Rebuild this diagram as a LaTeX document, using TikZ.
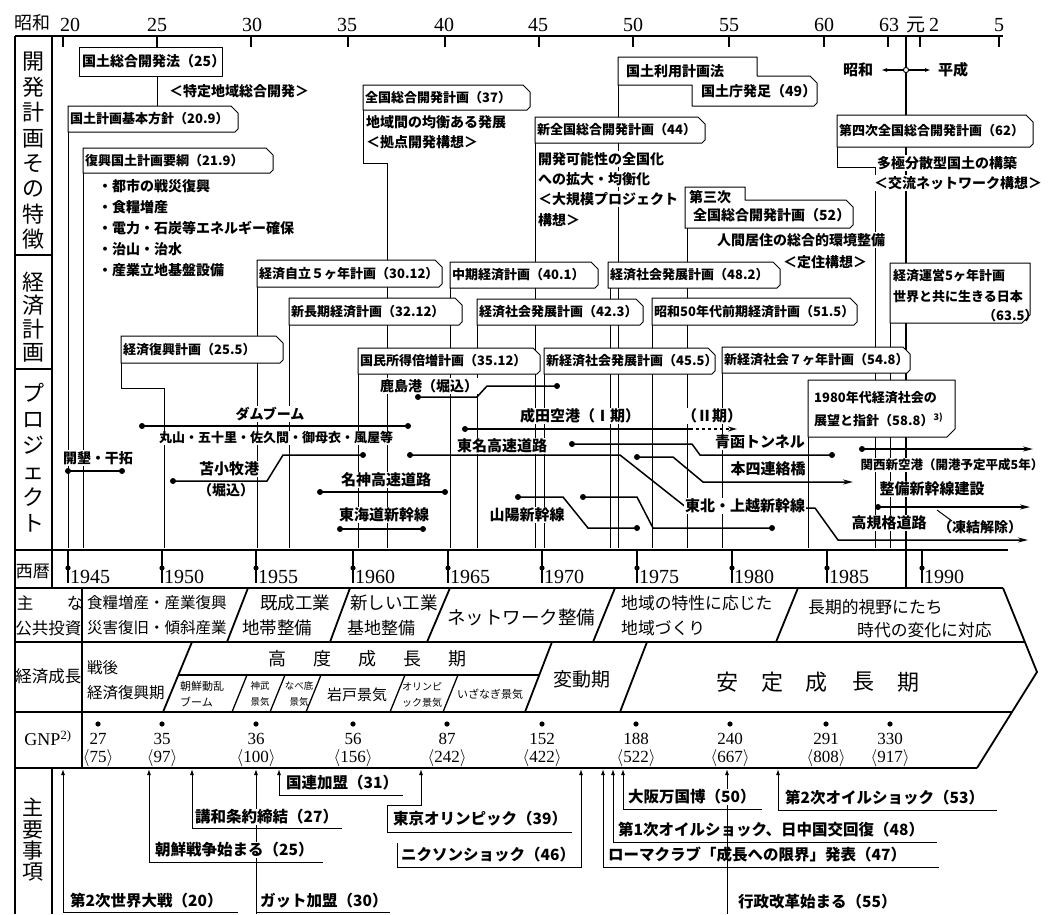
\documentclass[tikz,border=0pt]{standalone}
\usepackage{fontspec}
\setmainfont{Noto Sans CJK JP}
\newfontfamily\ser{Liberation Serif}
\usetikzlibrary{arrows.meta}
\newcommand\fsz[1]{\fontsize{#1}{#1}\selectfont}
\newcommand\dt[1]{\fill #1 circle[radius=3];}
\newcommand\planbox[6]{%
  \draw[pbox] (#2,#5) -- (#2,#3) -- ({#4-7},#3) -- (#4,{#3+7}) -- (#4,{#5-3}) -- ({#4-3},#5) -- cycle;
  \node[lbl,anchor=west] (#1) at ({#2+1},{(#3+#5)/2}) {#6};}
\begin{document}
\begin{tikzpicture}[x=1pt,y=-1pt,
 frame/.style={line width=1.8pt},
 tickl/.style={line width=1.3pt},
 life/.style={line width=0.8pt},
 pbox/.style={line width=1pt,fill=white,line join=round},
 lbl/.style={font=\bfseries\fsz{13}, inner sep=1pt},
 body/.style={font=\bfseries\fsz{14}, inner sep=1pt, fill=white, anchor=west},
 ev/.style={font=\bfseries\fsz{15.5}, inner sep=1pt, fill=white, anchor=west},
 prj/.style={font=\bfseries\fsz{14}, inner sep=1pt, fill=white},
 pl/.style={line width=1.5pt},
 parr/.style={line width=1.5pt,-{Stealth[length=10pt,width=5pt]}},
 uarr/.style={line width=1pt,-{Latex[length=6pt,width=4pt]}},
 evl/.style={line width=1pt},
 seg/.style={font=\fsz{16}, inner sep=0pt},
 vlab/.style={inner sep=0pt,align=center},
 num/.style={font=\ser\fsz{20}, inner sep=0pt, anchor=base},
]
\useasboundingbox (0,0) rectangle (1053,914);

% ---------- top axis ----------
\node[font=\fsz{18},inner sep=0pt] (showa) at (33,23) {昭和};
\draw[frame] (15,36) -- (1003,36);
\foreach \x in {63,157,251,348,445,539,633,729,824,888,920,999}
  \draw[tickl] (\x,36) -- (\x,47);
\foreach \x/\t in {70/20,157/25,252/30,347/35,444/40,538/45,633/50,729/55,824/60,889/63,999/5}
  \node[num] (ax\t) at (\x,31) {\t};
\node[font=\fsz{19},inner sep=0pt,anchor=base] (gan) at (916,31) {元};
\node[num] (ax2) at (934,31) {2};

% ---------- lifelines ----------
\foreach \x/\a in {68/132, 83/173, 257/287, 289/325, 358/374, 387/163, 450/288, 477/325, 535/143, 544/374, 610/288, 618/85, 652/325, 687/228, 722/373, 808/437, 875/167, 890/323}
  \draw[life] (\x,\a) -- (\x,548);
\draw[life] (121,363) -- (121,388) -- (164,388) -- (164,548);
\draw[life] (363,110) -- (363,163) -- (387,163);
\draw[life] (837,147) -- (837,167) -- (875,167);
\draw[life] (157,76) -- (157,106);
\draw[line width=1.4pt] (906,36) -- (906,588);

% Showa / Heisei
\node[font=\bfseries\fsz{15},inner sep=1pt] (shw) at (858,70) {昭和};
\node[font=\bfseries\fsz{15},inner sep=1pt] (hsi) at (953,70) {平成};
\draw[line width=1.2pt,-{Latex[length=6pt,width=4pt]}] (906,70) -- (881,70);
\draw[line width=1.2pt,-{Latex[length=6pt,width=4pt]}] (906,70) -- (931,70);
\draw[line width=1pt,fill=white] (906,70) circle[radius=2.6];

% ---------- left label column ----------
\draw[frame] (15,36) -- (15,914);
\draw[frame] (52,36) -- (52,588);
\draw[frame] (15,255) -- (52,255);
\draw[frame] (15,369) -- (52,369);
\node[vlab,font={\fontsize{22}{25.4}\selectfont}] (lkai) at (33.5,151) {開\\発\\計\\画\\そ\\の\\特\\徴};
\node[vlab,font={\fontsize{22}{23.3}\selectfont}] (lkei) at (33.5,317) {経\\済\\計\\画};
\node[vlab,font={\fontsize{22}{26}\selectfont}] (lpro) at (33.5,458) {プ\\ロ\\ジ\\ェ\\ク\\ト};

% ---------- development plans ----------
\draw[pbox] (79,47) rectangle (222,76);
\node[lbl,anchor=west,font=\bfseries\fsz{14}] (kokudoho) at (81,61.5) {国土総合開発法（25）};
\node[body,fill=none] (tokutei) at (168,91) {＜特定地域総合開発＞};

\planbox{kihon}{68}{106}{238}{132}{国土計画基本方針（20.9）}
\planbox{fukko}{83}{148}{273}{173}{復興国土計画要綱（21.9）}
\node[body] (b1) at (97,186) {・都市の戦災復興};
\node[body] (b2) at (97,207) {・食糧増産};
\node[body] (b3) at (97,228) {・電力・石炭等エネルギー確保};
\node[body] (b4) at (97,249) {・治山・治水};
\node[body] (b5) at (97,270) {・産業立地基盤設備};

\planbox{zenso}{363}{85}{530}{110}{全国総合開発計画（37）}
\node[body] (z1) at (365,122) {地域間の均衡ある発展};
\node[body] (z2) at (365,142) {＜拠点開発構想＞};

\draw[pbox] (618,85) -- (618,57) -- (757,57) -- (757,76) -- (810,76) -- (817,83) -- (817,103) -- (814,106) -- (692,106) -- (692,85) -- cycle;
\node[lbl,anchor=west,font=\bfseries\fsz{14}] (riyo) at (625,71) {国土利用計画法};
\node[lbl,anchor=west,font=\bfseries\fsz{14}] (kokudocho) at (700,91) {国土庁発足（49）};

\planbox{shinzen}{535}{117}{705}{143}{新全国総合開発計画（44）}
\node[body] (s1) at (537,159) {開発可能性の全国化};
\node[body] (s2) at (537,179) {への拡大・均衡化};
\node[body] (s3) at (537,199) {＜大規模プロジェクト};
\node[body] (s4) at (537,220) {構想＞};

\draw[pbox] (685,228) -- (685,187) -- (745,187) -- (745,200) -- (846,200) -- (853,207) -- (853,225) -- (850,228) -- cycle;
\node[lbl,anchor=west,font=\bfseries\fsz{14}] (sanji) at (688,197) {第三次};
\node[lbl,anchor=west,font=\bfseries\fsz{14}] (sanji2) at (692,215) {全国総合開発計画（52）};
\node[body] (t1) at (716,240) {人間居住の総合的環境整備};
\node[body] (t2) at (782,262) {＜定住構想＞};

\planbox{yonji}{837}{115}{1033}{147}{第四次全国総合開発計画（62）}
\node[body] (y1) at (876,163) {多極分散型国土の構築};
\node[body] (y2) at (873,183) {＜交流ネットワーク構想＞};

% ---------- economic plans ----------
\planbox{jiritsu}{257}{260}{442}{287}{経済自立５ヶ年計画（30.12）}
\planbox{choki}{289}{298}{462}{325}{新長期経済計画（32.12）}
\planbox{keifuk}{121}{336}{283}{363}{経済復興計画（25.5）}
\planbox{chuki}{450}{262}{598}{288}{中期経済計画（40.1）}
\planbox{hatten}{477}{299}{643}{325}{経済社会発展計画（42.3）}
\planbox{baizo}{358}{348}{540}{374}{国民所得倍増計画（35.12）}
\planbox{kihonk}{608}{262}{780}{288}{経済社会発展計画（48.2）}
\planbox{s50}{652}{298}{857}{325}{昭和50年代前期経済計画（51.5）}
\planbox{shinhat}{544}{348}{715}{374}{新経済社会発展計画（45.5）}
\planbox{nanaka}{722}{347}{910}{373}{新経済社会７ヶ年計画（54.8）}
\draw[pbox] (890,323) -- (890,263) -- (1030,263) -- (1030,315) -- (1022,323) -- cycle;
\node[lbl,anchor=west] (unei1) at (892,276) {経済運営5ヶ年計画};
\node[lbl,anchor=west] (unei2) at (892,297) {世界と共に生きる日本};
\node[lbl,anchor=west] (unei3) at (982,316) {（63.5）};
\draw[pbox] (808,437) -- (808,380) -- (955,380) -- (955,429) -- (947,437) -- cycle;
\node[lbl,anchor=west] (p80a) at (813,398) {1980年代経済社会の};
\node[lbl,anchor=west] (p80b) at (813,420) {展望と指針（58.8）\textsuperscript{3)}};

% ---------- projects ----------
\draw[pl] (68,471) -- (122,471); \dt{(68,471)} \dt{(122,471)}
\node[prj] (kaikon) at (98,458) {開墾・干拓};

\draw[pl] (142,426) -- (408,426); \dt{(142,426)} \dt{(408,426)}
\node[prj] (dam) at (270,414) {ダムブーム};
\node[prj,font=\bfseries\fsz{13}] (damlist) at (276,438) {丸山・五十里・佐久間・御母衣・風屋等};

\draw[pl] (173,481) -- (267,481) -- (283,455) -- (363,455); \dt{(173,481)} \dt{(363,455)}
\node[prj,font=\bfseries\fsz{15}] (toma) at (229,469) {苫小牧港};
\node[prj] (tomab) at (226,490) {（堀込）};

\draw[pl] (320,492) -- (445,492); \dt{(320,492)} \dt{(445,492)}
\node[prj,font=\bfseries\fsz{15}] (meishin) at (386,480) {名神高速道路};

\draw[pl] (340,529) -- (423,529); \dt{(340,529)} \dt{(423,529)}
\node[prj,font=\bfseries\fsz{15}] (tokaido) at (384,515) {東海道新幹線};

\draw[pl] (418,397) -- (477,397) -- (487,386) -- (557,386); \dt{(418,397)} \dt{(557,386)}
\node[prj] (kashima) at (429,386) {鹿島港（堀込）};

\draw[pl] (465,429) -- (690,429); \dt{(465,429)}
\draw[pl,dashed,-{Stealth[length=9pt,width=5pt]}] (690,429) -- (737,429);
\node[prj,font=\bfseries\fsz{15}] (narita) at (580,416) {成田空港（Ⅰ期）};
\node[prj,font=\bfseries\fsz{15}] (narita2) at (712,416) {（Ⅱ期）};

\draw[parr] (410,455) -- (620,455) -- (687,508) -- (815,508) -- (838,540) -- (1028,540); \dt{(410,455)}
\node[prj,font=\bfseries\fsz{15}] (tomei) at (502,446) {東名高速道路};
\node[prj,font=\bfseries\fsz{15}] (koki) at (889,523) {高規格道路};

\draw[pl] (572,444) -- (692,444) -- (700,455) -- (832,455); \dt{(572,444)} \dt{(832,455)}
\node[prj,font=\bfseries\fsz{15}] (seikan) at (760,442) {青函トンネル};

\draw[parr] (637,457) -- (673,457) -- (703,482) -- (853,482); \dt{(637,457)}
\node[prj,font=\bfseries\fsz{15}] (honshi) at (768,469) {本四連絡橋};

\draw[pl] (518,497) -- (563,497) -- (588,528) -- (637,528); \dt{(518,497)} \dt{(637,528)}
\node[prj,font=\bfseries\fsz{15}] (sanyo) at (527,515) {山陽新幹線};

\draw[pl] (583,497) -- (637,497) -- (653,528) -- (772,528); \dt{(583,497)} \dt{(772,528)}
\node[prj,font=\bfseries\fsz{15}] (tohoku) at (745,506) {東北・上越新幹線};

\draw[parr] (862,449) -- (1033,449); \dt{(862,449)}
\node[prj,font=\bfseries\fsz{12.5}] (kansai) at (952,465) {関西新空港（開港予定平成5年）};

\draw[parr] (878,507) -- (1030,507); \dt{(878,507)}
\node[prj,font=\bfseries\fsz{15}] (seibi) at (932,489) {整備新幹線建設};
\node[prj] (toketsu) at (980,527) {（凍結解除）};
\draw[line width=1pt] (937,510) -- (952,521);

% ---------- lower table frame ----------
\draw[frame] (15,550) -- (1008,550);
\draw[frame] (15,588) -- (1003,588);
\draw[frame] (15,642) -- (1025,642);
\draw[frame] (15,712) -- (1012,712);
\draw[frame] (15,768) -- (977,768);
\draw[frame] (1003,588) -- (1037,672) -- (977,768);
\draw[frame] (52,550) -- (52,588);
\draw[frame] (82,588) -- (82,768);
\draw[frame] (52,768) -- (52,914);

% Seireki row
\node[font=\fsz{17},inner sep=0pt] (seireki) at (33,571) {西暦};
\foreach \x/\y in {68/1945,162/1950,256/1955,353/1960,448/1965,542/1970,637/1975,732/1980,827/1985,922/1990} {
  \draw[tickl] (\x,550) -- (\x,583);
  \fill (\x,568) circle[radius=2.6];
  \node[font=\ser\fsz{20},inner sep=0pt,anchor=base west] (yr\y) at (\x+2,583) {\y};
}

% public investment row
\node[font=\fsz{16.5},inner sep=0pt] (lshu) at (25,603) {主};
\node[font=\fsz{16.5},inner sep=0pt] (lna) at (75,603) {な};
\node[font=\fsz{16.5},inner sep=0pt] (lko) at (48.5,628) {公共投資};
\foreach \a/\b in {248/227,350/330,450/427,615/593,798/776}
  \draw[frame] (\a,588) -- (\b,642);
\node[seg,anchor=west,font=\fsz{15.5}] (k1a) at (87,603) {食糧増産・産業復興};
\node[seg,anchor=west,font=\fsz{15.5}] (k1b) at (87,628) {災害復旧・傾斜産業};
\node[seg,anchor=west,font=\fsz{17.5}] (k2a) at (260,603) {既成工業};
\node[seg,anchor=west,font=\fsz{17.5}] (k2b) at (242,628) {地帯整備};
\node[seg,anchor=west,font=\fsz{17.5}] (k3a) at (350,603) {新しい工業};
\node[seg,anchor=west,font=\fsz{17}] (k3b) at (347,628) {基地整備};
\node[seg,anchor=west,font=\fsz{18.5}] (k4) at (447,617) {ネットワーク整備};
\node[seg,anchor=west,font=\fsz{16.8}] (k5a) at (621,603) {地域の特性に応じた};
\node[seg,anchor=west,font=\fsz{16.8}] (k5b) at (621,628) {地域づくり};
\node[seg,anchor=west,font=\fsz{16.8}] (k6a) at (808,607) {長期的視野にたち};
\node[seg,anchor=west,font=\fsz{16.8}] (k6b) at (857,630) {時代の変化に対応};

% economic growth row
\node[font=\fsz{16.5},inner sep=0pt] (lkeizai) at (48.5,676) {経済成長};
\draw[frame] (192,642) -- (163,712);
\draw[frame] (552,642) -- (525,712);
\draw[frame] (647,642) -- (620,712);
\draw[tickl] (178,675) -- (539,675);
\foreach \a/\b in {247/232,285/270,321/306,405/390,458/443}
  \draw[tickl] (\a,675) -- (\b,712);
\node[seg,anchor=west,font=\fsz{15.5}] (g1a) at (87,668) {戦後};
\node[seg,anchor=west,font=\fsz{15.5}] (g1b) at (87,693) {経済復興期};
\foreach \x/\c [count=\i] in {277/高,322/度,367/成,412/長,457/期}
  \node[font=\fsz{18},inner sep=0pt] (kodo\i) at (\x,659) {\c};
\node[font={\fontsize{11}{16}\selectfont},inner sep=0pt,align=left,anchor=west] (bm1) at (180,694) {朝鮮動乱\\ブーム};
\node[font={\fontsize{9.5}{16}\selectfont},inner sep=0pt,align=center] (bm2) at (260,694) {神武\\景気};
\node[font={\fontsize{9.5}{16}\selectfont},inner sep=0pt,align=center] (bm3) at (299,694) {なべ底\\景気};
\node[font=\fsz{15},inner sep=0pt] (bm4) at (357,695) {岩戸景気};
\node[font={\fontsize{10}{16}\selectfont},inner sep=0pt,align=left,anchor=west] (bm5) at (402,695) {オリンピ\\ック景気};
\node[font=\fsz{11},inner sep=0pt] (bm6) at (490,694) {いざなぎ景気};
\node[font=\fsz{19},inner sep=0pt] (hendo) at (582,679) {変動期};
\foreach \x/\c [count=\i] in {727/安,772/定,816/成,863/長,908/期}
  \node[font=\fsz{22},inner sep=0pt] (antei\i) at (\x,682) {\c};

% GNP row
\node[font=\ser\fsz{18},inner sep=0pt] (lgnp) at (48,738) {GNP\textsuperscript{2)}};
\foreach \x/\g/\r in {98/27/75,162/35/97,256/36/100,353/56/156,447/87/242,542/152/422,636/188/522,730/240/667,826/291/808,890/330/917} {
  \fill (\x,724) circle[radius=2.6];
  \node[font=\ser\fsz{17},inner sep=0pt] (gn\g) at (\x,739) {\g};
  \node[font=\ser\fsz{17},inner sep=0pt] (gr\r) at (\x,758) {$\langle$\r$\rangle$};
}

% main events
\node[vlab,font={\fontsize{21}{21.3}\selectfont}] (lshuyo) at (33.5,840) {主\\要\\事\\項};
\draw[uarr] (238,912) -- (63,912) -- (63,769);
\node[ev] (ww2) at (69,901) {第2次世界大戦（20）};
\draw[uarr] (256,914) -- (256,769);
\draw[evl] (256,912) -- (390,912);
\node[ev] (gatt) at (259,901) {ガット加盟（30）};
\draw[uarr] (323,862) -- (149,862) -- (149,769);
\node[ev] (korea) at (154,850) {朝鮮戦争始まる（25）};
\draw[uarr] (342,828) -- (192,828) -- (192,769);
\node[ev] (peace) at (194,817) {講和条約締結（27）};
\draw[uarr] (403,795) -- (279,795) -- (279,769);
\node[ev] (un) at (285,783) {国連加盟（31）};
\draw[uarr] (572,832) -- (387,832) -- (387,805) -- (421,805) -- (421,769);
\node[ev] (olymp) at (392,819) {東京オリンピック（39）};
\draw[uarr] (397,843) -- (397,867) -- (581,867) -- (581,769);
\node[ev] (nixon) at (400,855) {ニクソンショック（46）};
\draw[uarr] (939,867) -- (603,867) -- (603,769);
\node[ev] (rome) at (607,855) {ローマクラブ「成長への限界」発表（47）};
\draw[uarr] (937,842) -- (613,842) -- (613,769);
\node[ev] (oil1) at (617,830) {第1次オイルショック、日中国交回復（48）};
\draw[uarr] (727,914) -- (727,769);
\draw[uarr] (762,809) -- (623,809) -- (623,769);
\node[ev] (expo) at (627,797) {大阪万国博（50）};
\node[ev] (gyokaku) at (737,902) {行政改革始まる（55）};
\draw[uarr] (997,810) -- (778,810) -- (778,769);
\node[ev] (oil2) at (784,798) {第2次オイルショック（53）};
\end{tikzpicture}
\end{document}
